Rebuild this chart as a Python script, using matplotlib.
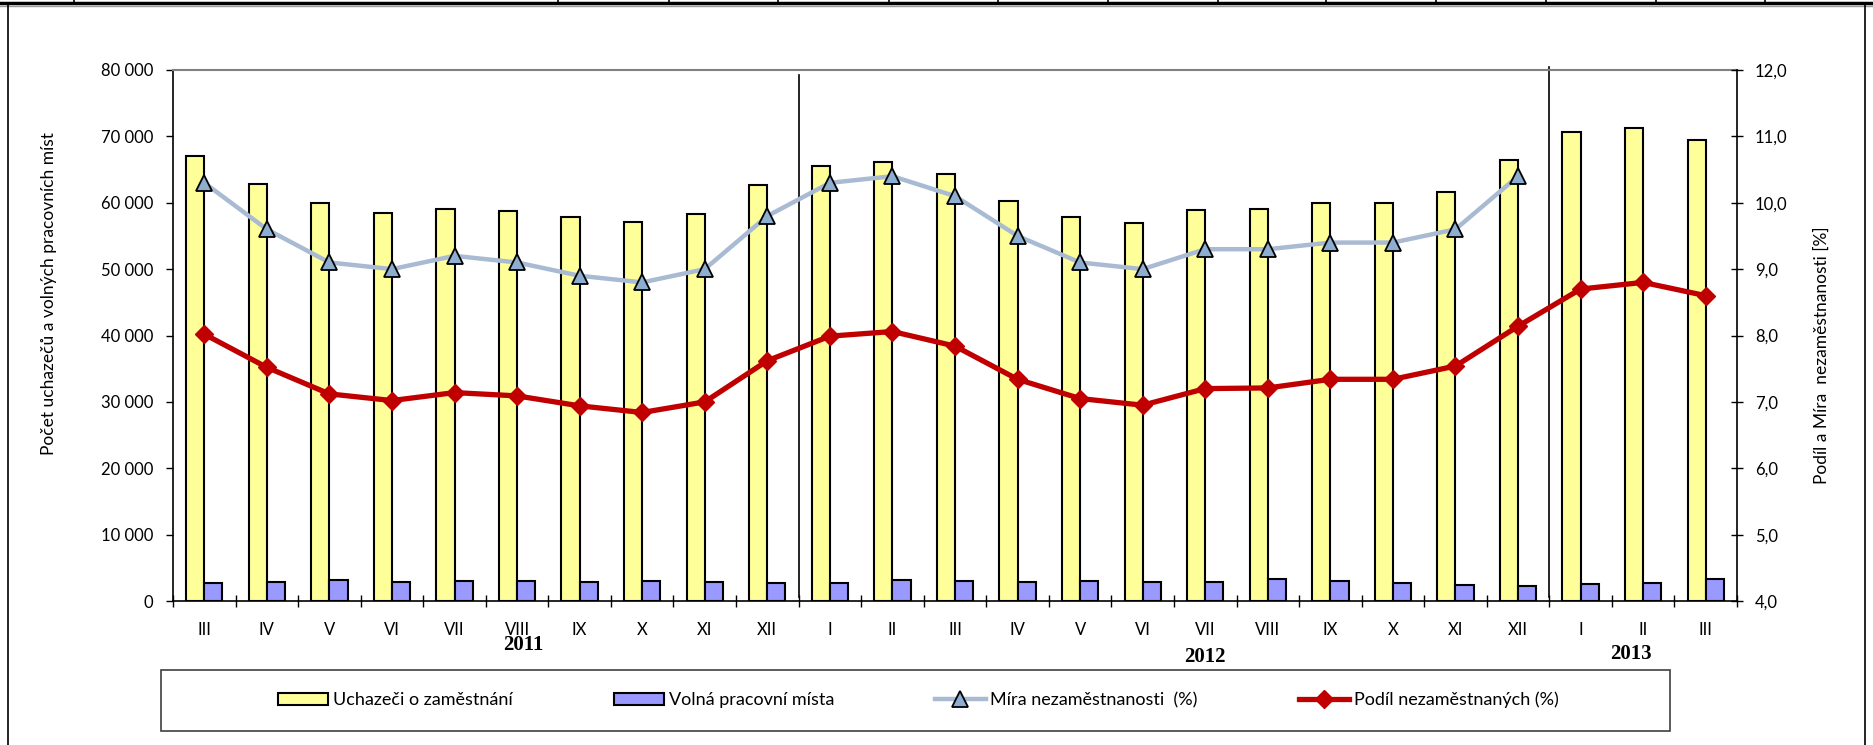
import numpy as np
import matplotlib
matplotlib.use("Agg")
import matplotlib.pyplot as plt
from matplotlib.lines import Line2D
from matplotlib.patches import Rectangle
from matplotlib.ticker import FuncFormatter

plt.rcParams["font.family"] = ["Lato", "DejaVu Sans"]

# months: III/2011 .. III/2013
months = ["III", "IV", "V", "VI", "VII", "VIII", "IX", "X", "XI", "XII",
          "I", "II", "III", "IV", "V", "VI", "VII", "VIII", "IX", "X", "XI", "XII",
          "I", "II", "III"]
years = ["2011", "2012", "2013"]

# job seekers and vacancies (left axis)
uchazeci = [67000, 62900, 59900, 58400, 59100, 58700, 57800, 57100, 58300, 62600,
            65600, 66200, 64300, 60300, 57900, 57000, 58900, 59000, 60000, 60000, 61600, 66500,
            70700, 71200, 69500]
volna = [2650, 2900, 3200, 2850, 2950, 3000, 2900, 3050, 2850, 2750,
         2750, 3200, 3050, 2900, 3050, 2900, 2900, 3300, 3050, 2700, 2400, 2300,
         2600, 2750, 3300]

# rates in % (right axis)
mira = [10.3, 9.6, 9.1, 9.0, 9.2, 9.1, 8.9, 8.8, 9.0, 9.8,
        10.3, 10.4, 10.1, 9.5, 9.1, 9.0, 9.3, 9.3, 9.4, 9.4, 9.6, 10.4,
        np.nan, np.nan, np.nan]
podil = [8.02, 7.52, 7.12, 7.02, 7.14, 7.09, 6.94, 6.84, 7.00, 7.62,
         7.99, 8.06, 7.84, 7.34, 7.05, 6.95, 7.20, 7.21, 7.34, 7.34, 7.54, 8.14,
         8.70, 8.80, 8.60]

W, H = 1874, 745
fig = plt.figure(figsize=(W / 100, H / 100), dpi=100)
ax = fig.add_axes([173 / W, 1 - 601 / H, (1737 - 173) / W, (601 - 70) / H])

x = np.arange(len(months))
w = 0.29
ax.bar(x - w / 2, uchazeci, width=w, color="#FFFF99", edgecolor="black", linewidth=1.5,
       label="Uchazeči o zaměstnání", zorder=2)
ax.bar(x + w / 2, volna, width=w, color="#9999FF", edgecolor="black", linewidth=1.5,
       label="Volná pracovní místa", zorder=2)
ax.set_xlim(-0.5, len(months) - 0.5)
ax.set_ylim(0, 80000)
ax.set_yticks(np.arange(0, 80001, 10000))
ax.yaxis.set_major_formatter(FuncFormatter(lambda v, p: f"{v:,.0f}".replace(",", " ")))
ax.tick_params(axis="y", direction="out", length=5, width=1, pad=9, labelsize=12)

ax.set_xticks(x, months)
ax.set_xticks(np.arange(-0.5, len(months), 1), minor=True)
ax.tick_params(axis="x", which="major", length=0, pad=15, labelsize=12)
ax.tick_params(axis="x", which="minor", direction="inout", length=8, width=1)

for s in ["left", "bottom"]:
    ax.spines[s].set_color("black")
    ax.spines[s].set_linewidth(1.2)
ax.spines["top"].set_color("#808080")
ax.spines["top"].set_linewidth(1.5)
ax.spines["right"].set_visible(False)

# year separators
ax.axvline(9.5, ymin=0.008, ymax=0.99, color="black", lw=1.2, zorder=1)
ax.axvline(21.5, ymin=0.008, ymax=1.006, color="black", lw=1.2, zorder=1, clip_on=False)

ax2 = ax.twinx()
ax2.set_ylim(4, 12)
ax2.set_yticks(np.arange(4, 12.1, 1))
ax2.yaxis.set_major_formatter(FuncFormatter(lambda v, p: f"{v:.1f}".replace(".", ",")))
ax2.tick_params(axis="y", direction="inout", length=9, width=1, pad=8.5, labelsize=12)
for s in ["left", "top", "bottom"]:
    ax2.spines[s].set_visible(False)
ax2.spines["right"].set_linewidth(1.2)

ax2.plot(x, mira, color="#A9BAD3", lw=3.2, marker="^", ms=12, mfc="#8DAED0", mec="black",
         mew=1.3, label="Míra nezaměstnanosti  (%)")
ax2.plot(x, podil, color="#C00000", lw=3.8, marker="D", ms=9, mfc="#C00000", mec="#C00000",
         label="Podíl nezaměstnaných (%)")

# year captions under the month labels
for txt, xp, dy in [(years[0], 5.1, -32), (years[1], 16.0, -40), (years[2], 22.8, -38)]:
    ax.annotate(txt, xy=(xp, 0), xycoords=("data", "axes fraction"), xytext=(0, dy),
                textcoords="offset points", ha="center", va="center",
                family=["Liberation Serif", "DejaVu Serif"], fontweight="bold", fontsize=15)

fig.text(49 / W, 1 - 294 / H, "Počet uchazečů a volných pracovních míst", rotation=90,
         ha="center", va="center", fontsize=12.5)
fig.text(1822 / W, 1 - 355 / H, "Podíl a Míra  nezaměstnanosti [%]", rotation=90,
         ha="center", va="center", fontsize=12.5)

h1, l1 = ax.get_legend_handles_labels()
h2, l2 = ax2.get_legend_handles_labels()
fig.legend(h1 + h2, l1 + l2, loc="center", bbox_to_anchor=(918 / W, 1 - 700 / H), ncol=4,
           frameon=False, handlelength=2.8, handletextpad=0.25, columnspacing=5.6,
           fontsize=13, numpoints=1)
fig.add_artist(Rectangle((161 / W, 1 - 731 / H), (1670 - 161) / W, 61 / H,
                         transform=fig.transFigure, fill=False, edgecolor="#404040", lw=1.2))


def fig_line(x0, y0, x1, y1, **kw):
    fig.add_artist(Line2D([x0 / W, x1 / W], [1 - y0 / H, 1 - y1 / H],
                          transform=fig.transFigure, **kw))


# page/table frame around the chart
fig_line(0, 3, W, 3, color="black", lw=2.5)
fig_line(0, 6, W, 6, color="#9a9a9a", lw=1)
for xs in [74, 558, 669, 778, 889, 998, 1108, 1218, 1326, 1436, 1546, 1656, 1765]:
    fig_line(xs, 0, xs, 4, color="black", lw=1.2)
fig_line(8, 4, 8, H, color="black", lw=1.2)
fig_line(1865, 4, 1865, H, color="black", lw=1.2)

fig.savefig("out.png", dpi=100)
